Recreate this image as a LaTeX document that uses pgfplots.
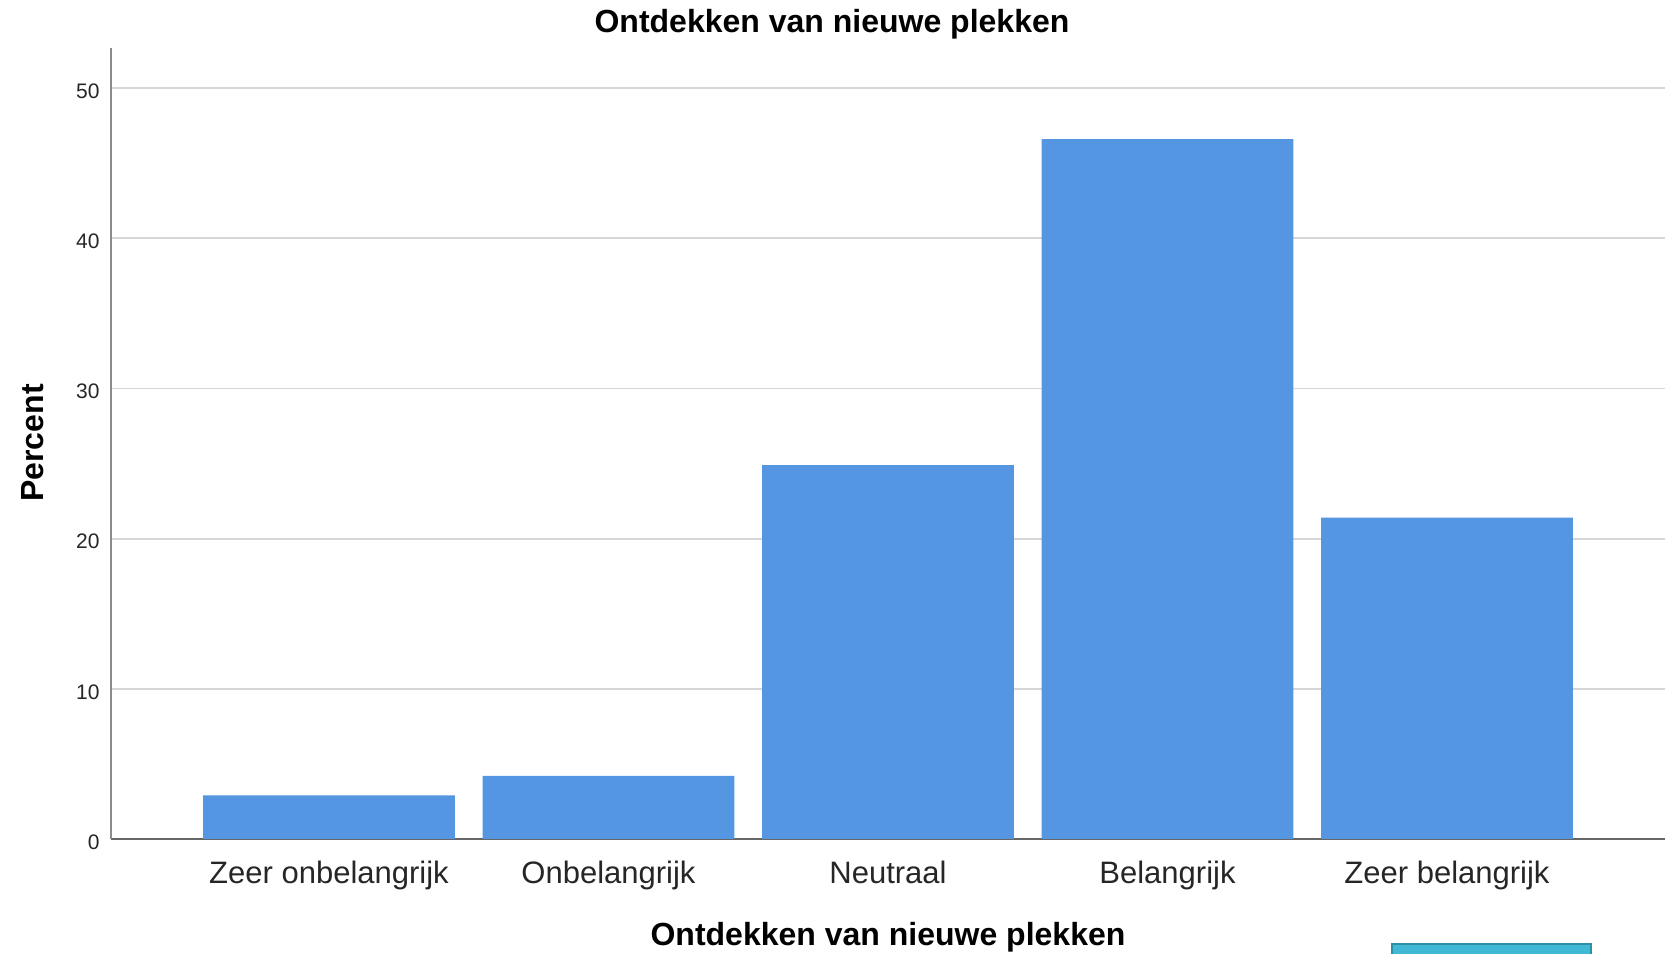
\documentclass[border=0pt]{standalone}
\usepackage{pgfplots}
\pgfplotsset{compat=1.18}
\usepackage{fontspec}
\setmainfont{Liberation Sans}
\definecolor{barblue}{HTML}{5596E3}
\definecolor{gridgray}{HTML}{D6D6D6}
\definecolor{teal1}{HTML}{41B9D4}
\definecolor{teal2}{HTML}{2F8FA6}
\begin{document}
\begin{tikzpicture}
\path[use as bounding box] (0,0) rectangle (839pt,477pt);
\begin{axis}[
  at={(55.5pt,57.5pt)}, anchor=south west,
  scale only axis, width=777pt, height=395.5pt,
  xmin=-0.78, xmax=4.78, ymin=0, ymax=52.67,
  axis x line*=bottom, axis y line*=left,
  axis line style={-},
  x axis line style={draw=black!60, line width=0.9pt},
  y axis line style={draw=black!45, line width=1pt},
  xtick={0,1,2,3,4},
  xticklabels={Zeer onbelangrijk, Onbelangrijk, Neutraal, Belangrijk, Zeer belangrijk},
  ytick={0,10,20,30,40,50},
  major tick length=0pt,
  ymajorgrids, grid style={gridgray, line width=0.9pt},
  /pgf/number format/assume math mode=true,
  xticklabel style={font=\fontsize{15.5}{18}\selectfont, text=black!85, anchor=base, inner sep=0pt, yshift=-22pt},
  yticklabel style={font=\fontsize{10.5}{12}\selectfont, text=black!85, anchor=east, inner sep=0pt, xshift=-5.5pt, yshift=-1.5pt},
]
\addplot[ybar, bar width=0.9, fill=barblue, draw=none] coordinates {(0,2.9) (1,4.2) (2,24.9) (3,46.6) (4,21.4)};
\end{axis}
\node[font=\bfseries\fontsize{16}{19}\selectfont, anchor=base] at (416pt,460.5pt) {Ontdekken van nieuwe plekken};
\node[font=\bfseries\fontsize{16}{19}\selectfont, anchor=base] at (444pt,4pt) {Ontdekken van nieuwe plekken};
\node[font=\bfseries\fontsize{16}{19}\selectfont, anchor=base, rotate=90] at (21.7pt,255.5pt) {Percent};
\draw[fill=teal1, draw=teal2, line width=0.8pt] (696pt,-3pt) rectangle (795.5pt,5pt);
\end{tikzpicture}
\end{document}
